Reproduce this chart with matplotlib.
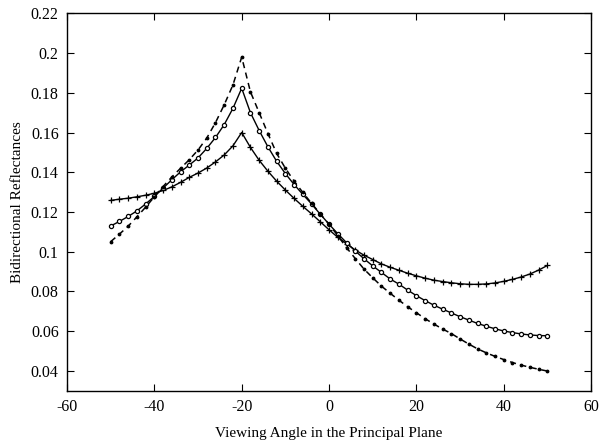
import matplotlib.pyplot as plt
import numpy as np

plt.rcParams['font.family'] = ['Liberation Serif', 'DejaVu Serif']
plt.rcParams['axes.unicode_minus'] = False

# viewing angle in the principal plane (degrees)
angles = list(range(-50, 51, 2))

# solid line, "+" markers
refl_plus = [0.1258, 0.1264, 0.1269, 0.1276, 0.1284, 0.1294, 0.1308, 0.1326, 0.1349, 0.1374,
             0.1396, 0.1421, 0.1452, 0.1487, 0.1533, 0.1600,
             0.1525, 0.1460, 0.1405, 0.1355, 0.1310, 0.1268, 0.1228, 0.1190, 0.1150, 0.1110,
             0.1072, 0.1040, 0.1008, 0.0982, 0.0960, 0.0938, 0.0921, 0.0906, 0.0891, 0.0878,
             0.0866, 0.0856, 0.0849, 0.0843, 0.0838, 0.0835, 0.0835, 0.0837, 0.0842, 0.0850,
             0.0860, 0.0872, 0.0887, 0.0907, 0.0930]

# solid line, "o" markers
refl_circ = [0.1129, 0.1152, 0.1177, 0.1205, 0.1240, 0.1278, 0.1320, 0.1362, 0.1402, 0.1436,
             0.1472, 0.1520, 0.1575, 0.1640, 0.1722, 0.1823,
             0.1700, 0.1610, 0.1528, 0.1455, 0.1393, 0.1338, 0.1288, 0.1240, 0.1188, 0.1138,
             0.1090, 0.1045, 0.1003, 0.0964, 0.0928, 0.0895, 0.0862, 0.0836, 0.0806, 0.0778,
             0.0753, 0.0730, 0.0710, 0.0691, 0.0672, 0.0655, 0.0638, 0.0624, 0.0611, 0.0600,
             0.0592, 0.0585, 0.0580, 0.0577, 0.0576]

# dashed line, dot markers
refl_dash = [0.1050, 0.1088, 0.1128, 0.1175, 0.1224, 0.1276, 0.1328, 0.1376, 0.1420, 0.1463,
             0.1512, 0.1572, 0.1650, 0.1740, 0.1840, 0.1980,
             0.1805, 0.1700, 0.1595, 0.1495, 0.1420, 0.1355, 0.1298, 0.1243, 0.1190, 0.1138,
             0.1080, 0.1020, 0.0965, 0.0912, 0.0868, 0.0826, 0.0790, 0.0755, 0.0722, 0.0692,
             0.0662, 0.0635, 0.0610, 0.0587, 0.0560, 0.0534, 0.0510, 0.0490, 0.0472, 0.0456,
             0.0441, 0.0428, 0.0417, 0.0407, 0.0398]

xticks = [-60, -40, -20, 0, 20, 40, 60]
yticks = [0.04, 0.06, 0.08, 0.1, 0.12, 0.14, 0.16, 0.18, 0.2, 0.22]
ytick_labels = ["0.04", "0.06", "0.08", "0.1", "0.12", "0.14", "0.16", "0.18", "0.2", "0.22"]

fig = plt.figure(figsize=(6.01, 4.48), dpi=100)
ax = fig.add_axes([0.1115, 0.1283, 0.872, 0.8417])

ax.plot(angles, refl_plus, color="black", lw=1.0, marker="+", ms=4, mew=0.9)
ax.plot(angles, refl_circ, color="black", lw=1.0, marker="o", ms=3, mfc="white", mew=0.9)
ax.plot(angles, refl_dash, color="black", lw=1.1, ls=(0, (4, 3)), marker=".", ms=3.5)

ax.set_xlim(-60, 60)
ax.set_ylim(0.03, 0.22)
ax.set_xticks(xticks)
ax.set_yticks(yticks)
ax.set_yticklabels(ytick_labels)
ax.tick_params(direction="in", top=True, right=True, length=5, width=0.8,
               labelsize=11.5, pad=6)
for s in ax.spines.values():
    s.set_linewidth(1.0)

ax.set_xlabel("Viewing Angle in the Principal Plane", fontsize=11, labelpad=9)
ax.set_ylabel("Bidirectional Reflectances", fontsize=11, labelpad=5)

fig.savefig("out.png", dpi=100)
